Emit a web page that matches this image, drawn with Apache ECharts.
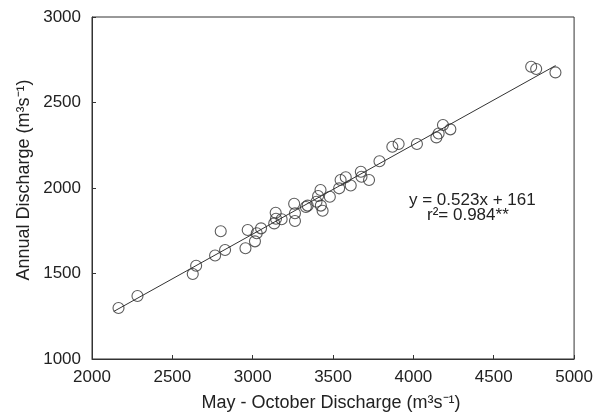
<!DOCTYPE html>
<html>
<head>
<meta charset="utf-8">
<script src="https://cdn.jsdelivr.net/npm/echarts@6/dist/echarts.min.js"></script>
<style>
html,body{margin:0;padding:0;background:#fff;}
#chart{width:596px;height:416px;}
</style>
</head>
<body>
<div id="chart"></div>
<script>
// May-Oct discharge vs annual discharge (m3/s)
var mayOct=[2165,2283,2627,2648,2766,2828,2801,2955,2969,3014,3025,3052,3134,3143,3145,3180,
    3258,3263,3263,3331,3342,3397,3407,3422,3424,3435,3480,3538,3547,3579,3610,3673,3677,3724,
    3789,3869,3908,4022,4143,4157,4184,4230,4733,4764,4884];
var annual=[1298,1368,1497,1545,1605,1637,1747,1648,1754,1688,1735,1764,1793,1855,1820,1817,
    1908,1852,1807,1889,1897,1920,1953,1988,1897,1867,1949,1998,2047,2063,2015,2095,2066,2047,
    2156,2241,2257,2257,2296,2319,2368,2343,2709,2696,2676];
// fitted line end points
var fitX=[2135,4885];
var fitY=[1278,2716];
var xTicks=[2000,2500,3000,3500,4000,4500,5000];
var yTicks=[1000,1500,2000,2500,3000];
var xTitle='May - October Discharge (m³s⁻¹)';
var yTitle='Annual Discharge (m³s⁻¹)';
var eqText='y = 0.523x + 161';
var r2Text='r²= 0.984**';

var font='"Liberation Sans", Arial, sans-serif';
var ink='#222';

var pts=mayOct.map(function(v,i){return [v,annual[i]];});
var fit=fitX.map(function(v,i){return [v,fitY[i]];});

var chart=echarts.init(document.getElementById('chart'));
chart.setOption({
    animation:false,
    backgroundColor:'#fff',
    grid:{left:92,right:21,top:17,bottom:57,show:true,borderColor:'#333',borderWidth:1},
    xAxis:{
        type:'value',min:xTicks[0],max:xTicks[xTicks.length-1],interval:500,
        axisLine:{show:true,lineStyle:{color:'#333',width:1}},
        axisTick:{show:true,inside:true,length:4,lineStyle:{color:'#333'}},
        splitLine:{show:false},
        axisLabel:{color:ink,fontSize:17,fontFamily:font,margin:10,formatter:function(v){return String(v);}}
    },
    yAxis:{
        type:'value',min:yTicks[0],max:yTicks[yTicks.length-1],interval:500,
        axisLine:{show:true,lineStyle:{color:'#333',width:1}},
        axisTick:{show:true,inside:true,length:4,lineStyle:{color:'#333'}},
        splitLine:{show:false},
        axisLabel:{color:ink,fontSize:17,fontFamily:font,margin:11,formatter:function(v){return String(v);}}
    },
    series:[
        {
            type:'line',data:fit,symbol:'none',silent:true,
            lineStyle:{color:'#333',width:1},z:1
        },
        {
            type:'scatter',data:pts,symbol:'circle',symbolSize:11,
            itemStyle:{color:'rgba(255,255,255,0)',borderColor:'#333',borderWidth:1.1},z:2
        }
    ],
    graphic:[
        {type:'text',x:331,y:403,style:{text:xTitle,font:'18px '+font,fill:ink,textAlign:'center',textVerticalAlign:'middle'}},
        {type:'text',x:24,y:180,rotation:Math.PI/2,style:{text:yTitle,font:'18px '+font,fill:ink,textAlign:'center',textVerticalAlign:'middle'}},
        {type:'text',x:409,y:200,style:{text:eqText,font:'17px '+font,fill:ink,textVerticalAlign:'middle'}},
        {type:'text',x:427,y:215,style:{text:r2Text,font:'17px '+font,fill:ink,textVerticalAlign:'middle'}}
    ]
});
</script>
</body>
</html>
